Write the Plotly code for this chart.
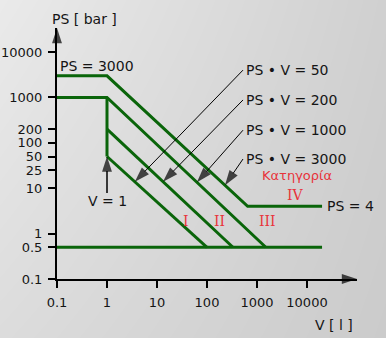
import base64
import struct
import zlib

import numpy as np
import plotly.graph_objects as go

# ---- data ----
# category boundary lines: (V, PS) vertices
line_ps3000 = {"V": [0.1, 1, 650, 20000], "PS": [3000, 3000, 4, 4]}
line_ps1000 = {"V": [0.1, 1, 1500], "PS": [1000, 1000, 0.5]}
line_v1 = {"V": [1, 1], "PS": [1000, 50]}
line_psv200 = {"V": [1, 330], "PS": [200, 0.5]}
line_psv50 = {"V": [1, 100], "PS": [50, 0.5]}
line_ps05 = {"V": [0.1, 20000], "PS": [0.5, 0.5]}

y_ticks = [0.1, 0.5, 1, 10, 25, 50, 100, 200, 1000, 10000]
y_ticklabels = ["0.1", "0.5", "1", "10", "25", "50", "100", "200", "1000", "10000"]
x_ticks = [0.1, 1, 10, 100, 1000, 10000]
x_ticklabels = ["0.1", "1", "10", "100", "1000", "10000"]

psv_labels = ["PS \u2022 V = 50", "PS \u2022 V = 200", "PS \u2022 V = 1000", "PS \u2022 V = 3000"]
psv_label_V = [560, 560, 560, 560]
psv_label_PS = [4000, 880, 190, 44]
arrow_tail_V = [525, 525, 525, 525]
arrow_tail_PS = [4000, 880, 190, 44]
arrow_tip_V = [3.6, 13.2, 63, 229]
arrow_target_lines = [line_psv50, line_psv200,
                      {"V": [1, 1500], "PS": [1000, 0.5]},
                      {"V": [1, 650], "PS": [3000, 4]}]

cat_labels = ["I", "II", "III", "IV"]
cat_V = [38, 175, 1585, 6000]
cat_PS = [1.85, 1.85, 1.85, 7.1]

GREEN = "#0a650a"
RED = "#e8333a"
FONT = "DejaVu Sans"
TXT = "#151515"

X_RANGE = [-1, 5]
Y_RANGE = [-1, 4.53]
W, H = 386, 338
ML, MR, MT, MB = 57, 29, 28, 59


# ---- background gradient (light grey, lighter at top-left) ----
def gradient_png(w, h):
    tl, tr, bl, br = 234, 208, 220, 203
    rows = []
    for j in range(h):
        fy = j / (h - 1)
        row = bytearray([0])
        for i in range(w):
            fx = i / (w - 1)
            v = int(round((tl * (1 - fx) + tr * fx) * (1 - fy) + (bl * (1 - fx) + br * fx) * fy))
            row += bytes((v, v, v))
        rows.append(bytes(row))
    raw = b"".join(rows)

    def chunk(t, d):
        c = struct.pack(">I", len(d)) + t + d
        return c + struct.pack(">I", zlib.crc32(t + d) & 0xffffffff)

    png = b"\x89PNG\r\n\x1a\n" + chunk(b"IHDR", struct.pack(">IIBBBBB", w, h, 8, 2, 0, 0, 0)) \
        + chunk(b"IDAT", zlib.compress(raw, 9)) + chunk(b"IEND", b"")
    return "data:image/png;base64," + base64.b64encode(png).decode()


pw, ph = W - ML - MR, H - MT - MB

fig = go.Figure()

for ln in [line_ps3000, line_ps1000, line_v1, line_psv200, line_psv50, line_ps05]:
    fig.add_trace(go.Scatter(x=ln["V"], y=ln["PS"], mode="lines",
                             line=dict(color=GREEN, width=3), hoverinfo="skip"))


def on_line(ln, v):
    lv = np.log10(ln["V"])
    lp = np.log10(ln["PS"])
    return 10 ** np.interp(np.log10(v), lv, lp)


def arrow(xs, ys, width=1.2, size=16, mode="lines+markers"):
    fig.add_trace(go.Scatter(
        x=xs, y=ys, mode=mode,
        line=dict(color="black", width=width),
        marker=dict(symbol=["circle", "arrow"], size=[0, size], color="black",
                    angleref="previous", line=dict(width=0)),
        cliponaxis=False, hoverinfo="skip"))


for tv, tp, hv, ln in zip(arrow_tail_V, arrow_tail_PS, arrow_tip_V, arrow_target_lines):
    arrow([tv, hv], [tp, on_line(ln, hv)], width=1)

# V = 1 arrow
arrow([1, 1], [7.8, 50], width=1.5)

# axis arrow heads
arrow([0.1, 0.1], [10 ** (Y_RANGE[1] - 0.3), 10 ** Y_RANGE[1]], mode="markers")
arrow([10 ** (X_RANGE[1] - 0.3), 10 ** X_RANGE[1]], [0.1, 0.1], mode="markers")

ann = []
txt_font = dict(family=FONT, size=14, color=TXT)
for lab, v, p in zip(psv_labels, psv_label_V, psv_label_PS):
    ann.append(dict(x=np.log10(v), y=np.log10(p), text=lab, showarrow=False,
                    xanchor="left", yanchor="middle", font=txt_font))
ann.append(dict(x=np.log10(0.103), y=np.log10(4900), text="PS = 3000", showarrow=False,
                xanchor="left", yanchor="middle", font=txt_font))
ann.append(dict(x=np.log10(23000), y=np.log10(4), text="PS = 4", showarrow=False,
                xanchor="left", yanchor="middle", font=txt_font))
ann.append(dict(x=0, y=np.log10(5.3), text="V = 1", showarrow=False,
                xanchor="center", yanchor="middle", font=txt_font))
ann.append(dict(x=np.log10(6300), y=np.log10(19.5),
                text="\u039a\u03b1\u03c4\u03b7\u03b3\u03bf\u03c1\u03af\u03b1",
                showarrow=False, xanchor="center", yanchor="middle",
                font=dict(family=FONT, size=13, color=RED)))
for lab, v, p in zip(cat_labels, cat_V, cat_PS):
    ann.append(dict(x=np.log10(v), y=np.log10(p), text=lab, showarrow=False,
                    xanchor="center", yanchor="middle",
                    font=dict(family="DejaVu Serif", size=14, color=RED)))
ann.append(dict(xref="paper", yref="paper", x=-0.025, y=1 + 9 / ph, text="PS [ bar ]",
                showarrow=False, xanchor="left", yanchor="middle", font=txt_font))
ann.append(dict(xref="paper", yref="paper", x=1 - 2 / pw, y=-46 / ph, text="V [ l ]",
                showarrow=False, xanchor="right", yanchor="middle", font=txt_font))

axis_common = dict(type="log", showgrid=False, zeroline=False, showline=True,
                   linecolor="black", linewidth=2, ticks="outside", ticklen=7,
                   tickcolor="black", tickwidth=1.5, automargin=False,
                   tickfont=dict(family=FONT, size=13, color=TXT))

fig.update_layout(
    width=W, height=H,
    margin=dict(l=ML, r=MR, t=MT, b=MB),
    paper_bgcolor="#d9d9d9", plot_bgcolor="rgba(0,0,0,0)",
    showlegend=False,
    annotations=ann,
    images=[dict(source=gradient_png(W, H), xref="paper", yref="paper",
                 x=-ML / pw, y=1 + MT / ph, sizex=W / pw, sizey=H / ph,
                 sizing="stretch", xanchor="left", yanchor="top", layer="below")],
    xaxis=dict(range=X_RANGE, tickvals=x_ticks, ticktext=x_ticklabels,
               ticklabelstandoff=3, **axis_common),
    yaxis=dict(range=Y_RANGE, tickvals=y_ticks, ticktext=y_ticklabels,
               ticklabelstandoff=3, **axis_common),
)

fig.write_html("out.html")
